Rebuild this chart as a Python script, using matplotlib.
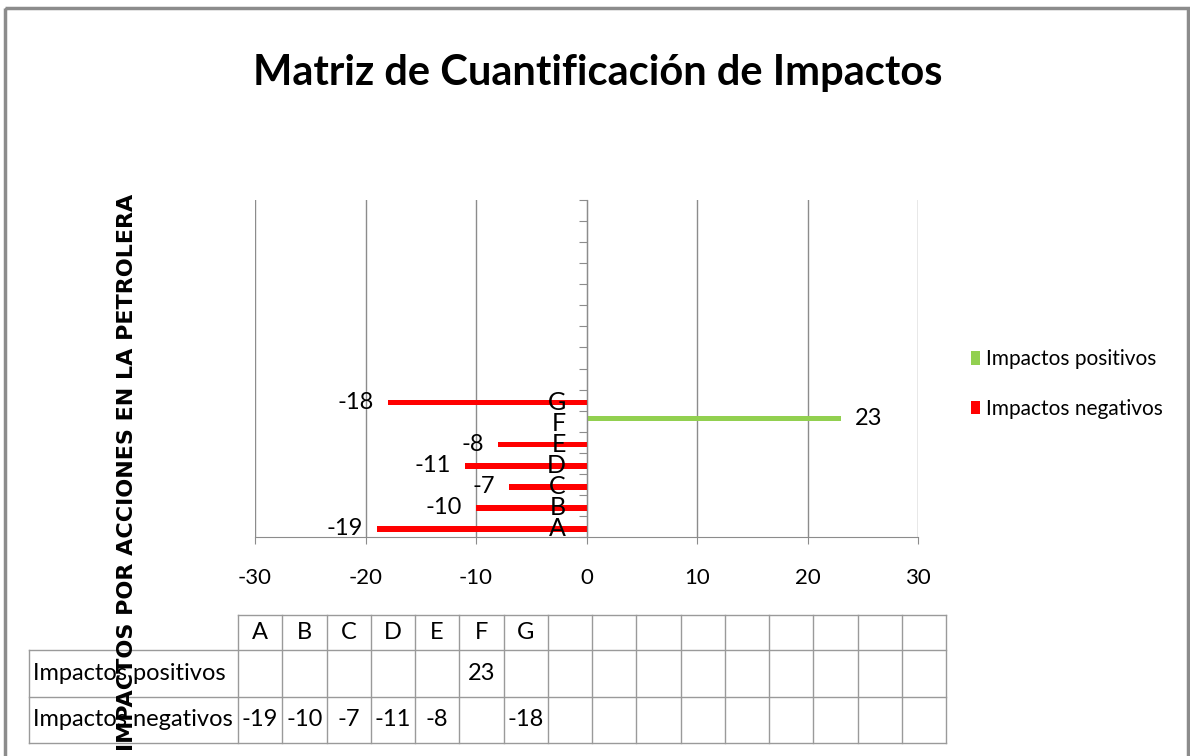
import numpy as np
import matplotlib
matplotlib.use('Agg')
import matplotlib.pyplot as plt
from matplotlib.patches import Rectangle

# datos del grafico
categorias = ['A', 'B', 'C', 'D', 'E', 'F', 'G'] + [''] * 9
positivos = [np.nan, np.nan, np.nan, np.nan, np.nan, 23, np.nan] + [np.nan] * 9
negativos = [-19, -10, -7, -11, -8, np.nan, -18] + [np.nan] * 9
series = ['Impactos positivos', 'Impactos negativos']
colores = ['#92D050', '#FF0000']
xticks = [-30, -20, -10, 0, 10, 20, 30]
titulo = 'Matriz de Cuantificación de Impactos'
eje_y = 'IMPACTOS POR ACCIONES EN LA PETROLERA'

plt.rcParams['font.family'] = ['Lato', 'DejaVu Sans']
plt.rcParams['axes.unicode_minus'] = False

W, H = 1190, 756
gris = '#8c8c8c'
fig = plt.figure(figsize=(W / 100, H / 100), dpi=100)
ax = fig.add_axes([255 / W, 1 - 537 / H, (918 - 255) / W, (537 - 200) / H])

y = np.arange(len(categorias))
pos = np.array(positivos, dtype=float)
neg = np.array(negativos, dtype=float)
ip = ~np.isnan(pos)
ineg = ~np.isnan(neg)
b1 = ax.barh(y[ip] + 0.12, pos[ip], height=0.26, color=colores[0], label=series[0])
b2 = ax.barh(y[ineg] - 0.12, neg[ineg], height=0.26, color=colores[1], label=series[1])
ax.bar_label(b1, labels=[f'{v:g}' for v in pos[ip]], padding=10, fontsize=17)
ax.bar_label(b2, labels=[f'{v:g}' for v in neg[ineg]], padding=10, fontsize=17)

ax.set_xlim(-30, 30)
ax.set_ylim(-0.5, len(categorias) - 0.5)
ax.set_xticks(xticks)
ax.xaxis.grid(True, color=gris, lw=1)
ax.xaxis.set_zorder(0.5)
ax.spines[['top', 'right']].set_visible(False)
ax.spines['left'].set_position(('data', 0))
ax.spines['left'].set_color(gris)
ax.spines['bottom'].set_color(gris)
ax.set_yticks(np.arange(len(categorias) + 1) - 0.5)
ax.set_yticklabels([])
ax.set_yticks(y, minor=True)
ax.set_yticklabels(categorias, minor=True)
ax.tick_params(axis='y', which='major', length=6, color=gris, direction='out')
ax.tick_params(axis='y', which='minor', length=0, pad=15, labelsize=18)
ax.tick_params(axis='x', length=5, color=gris, pad=17, labelsize=16)

ax.legend(loc='center left', bbox_to_anchor=(952 / W, 1 - 384 / H),
          bbox_transform=fig.transFigure, frameon=False, handlelength=0.45,
          handleheight=0.6, handletextpad=0.3, labelspacing=1.4, fontsize=15)

# tabla de datos debajo del grafico
ov = fig.add_axes([0, 0, 1, 1])
ov.set_xlim(0, W)
ov.set_ylim(H, 0)
ov.axis('off')
ov.patch.set_visible(False)
tc = '#9a9a9a'
colw = (946 - 238) / len(categorias)
tx = 238 + np.arange(len(categorias) + 1) * colw
filas = [615, 650, 697, 743]
for x in tx:
    ov.plot([x, x], [filas[0], filas[-1]], color=tc, lw=1)
ov.plot([29, 29], [filas[1], filas[-1]], color=tc, lw=1)
ov.plot([tx[0], tx[-1]], [filas[0], filas[0]], color=tc, lw=1)
for f in filas[1:]:
    ov.plot([29, tx[-1]], [f, f], color=tc, lw=1)
for i, cat in enumerate(categorias):
    xc = tx[i] + colw / 2
    ov.text(xc, (filas[0] + filas[1]) / 2, cat, ha='center', va='center', fontsize=17)
    if not np.isnan(pos[i]):
        ov.text(xc, (filas[1] + filas[2]) / 2, f'{pos[i]:g}', ha='center', va='center', fontsize=17)
    if not np.isnan(neg[i]):
        ov.text(xc, (filas[2] + filas[3]) / 2, f'{neg[i]:g}', ha='center', va='center', fontsize=17)
ov.text(33, (filas[1] + filas[2]) / 2, series[0], ha='left', va='center', fontsize=17)
ov.text(33, (filas[2] + filas[3]) / 2, series[1], ha='left', va='center', fontsize=17)

ov.add_patch(Rectangle((5, 8), 1183, 760, fill=False, edgecolor=gris, lw=2.5))

fig.text(598 / W, 1 - 73 / H, titulo, ha='center', va='center', fontsize=30, fontweight='bold')
fig.text(127 / W, 1 - 472 / H, eje_y, rotation=90, ha='center', va='center',
         fontsize=16, fontweight='bold', family=['DejaVu Sans'])

fig.savefig('out.png', dpi=100)
